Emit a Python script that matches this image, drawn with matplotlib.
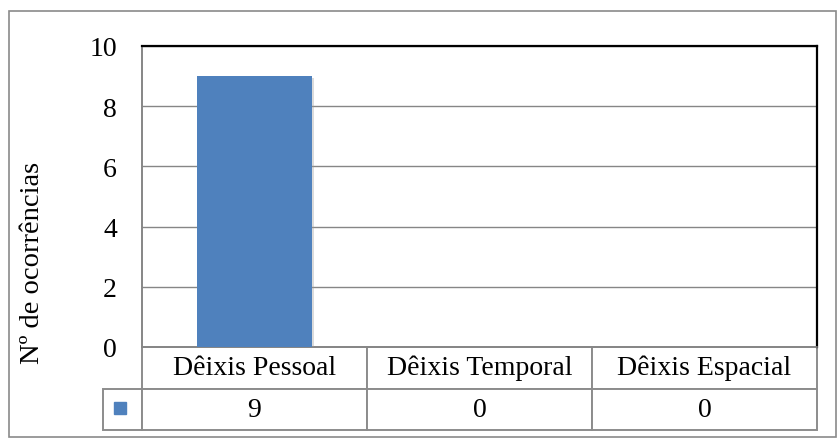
import matplotlib
matplotlib.use("Agg")
import matplotlib.pyplot as plt
from matplotlib.patches import Rectangle
import matplotlib.patheffects as pe

categories = ["Dêixis Pessoal", "Dêixis Temporal", "Dêixis Espacial"]
values = [9, 0, 0]
y_ticks = [0, 2, 4, 6, 8, 10]
y_label = "Nº de ocorrências"

BAR = "#4F81BD"
GRID = "#868686"
FONT = "Liberation Serif"
FS = 20

W, H = 838, 439
fig = plt.figure(figsize=(W / 100, H / 100), dpi=100)
fig.patch.set_facecolor("white")

# outer chart frame
fig.patches.append(Rectangle((9 / W, 1 / H), (836 - 9) / W, (438 - 12) / H,
                             transform=fig.transFigure, fill=False,
                             edgecolor="#8a8a8a", linewidth=1.2))

ax_w = 817 - 142
ax_h = 348 - 47
ax = fig.add_axes([142 / W, (H - 348) / H, ax_w / W, ax_h / H])
x = list(range(len(categories)))
bars = ax.bar(x, values, width=0.51, color=BAR, zorder=3)
for b in bars:
    b.set_path_effects([pe.SimplePatchShadow(offset=(1.5, -1.5), shadow_rgbFace="#9a9a9a", alpha=0.35),
                        pe.Normal()])

ax.set_xlim(-0.5, len(categories) - 0.5)
ax.set_ylim(0, 10)
ax.set_yticks(y_ticks)
ax.set_yticklabels([str(t) for t in y_ticks], fontfamily=FONT, fontsize=FS)
ax.set_xticks([])
ax.tick_params(axis="y", length=0, pad=18)
ax.yaxis.grid(True, color=GRID, linewidth=1.0, zorder=0)
ax.set_axisbelow(True)

ax.spines["left"].set_color(GRID)
ax.spines["left"].set_linewidth(1.4)
ax.spines["bottom"].set_color(GRID)
ax.spines["bottom"].set_linewidth(1.2)
for s in ("top", "right"):
    ax.spines[s].set_color("black")
    ax.spines[s].set_linewidth(1.6)

fig.text(33 / W, (H - 263) / H, y_label, rotation=90, ha="center", va="center",
         fontfamily=FONT, fontsize=FS + 0.5)

# data table under the plot, with a narrow key column on the left
col_w = 1.0 / len(categories)
key_w = 39 / ax_w
row_h = 41.5 / ax_h
tbl = ax.table(cellText=[[str(v) for v in values]], colLabels=categories,
               cellLoc="center", loc="bottom")
tbl.add_cell(1, -1, width=key_w, height=row_h, text="")
tbl.auto_set_font_size(False)
tbl.set_fontsize(FS)
for (r, c), cell in tbl.get_celld().items():
    cell.set_edgecolor("#8c8c8c")
    cell.set_linewidth(1.4)
    cell.get_text().set_fontfamily(FONT)
    cell.set_width(key_w if c == -1 else col_w)
    cell.set_height(row_h)

# legend key inside the row header cell
ax.plot([(120 - 142) / ax_w], [(348 - 409) / ax_h], marker="s", markersize=8.5,
        color=BAR, transform=ax.transAxes, clip_on=False, zorder=5)

fig.savefig("out.png", dpi=100)
